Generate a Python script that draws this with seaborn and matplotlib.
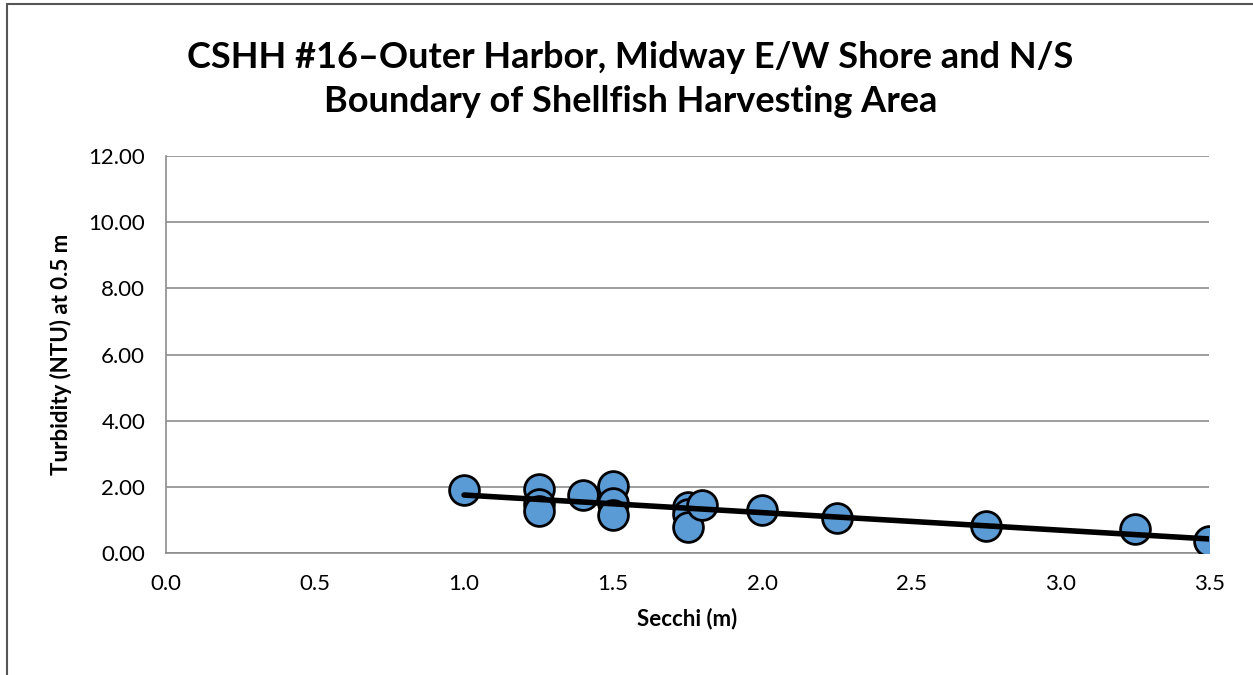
import numpy as np
import pandas as pd
import seaborn as sns
import matplotlib.pyplot as plt
from matplotlib.lines import Line2D

# data
secchi = [1.0, 1.25, 1.25, 1.25, 1.4, 1.5, 1.5, 1.5, 1.75, 1.75, 1.75, 1.8,
          2.0, 2.25, 2.75, 3.25, 3.5]
turbidity = [1.90, 1.94, 1.48, 1.27, 1.75, 2.02, 1.52, 1.15, 1.40, 1.18, 0.80, 1.45,
             1.30, 1.06, 0.82, 0.72, 0.37]

title = "CSHH #16\u2013Outer Harbor, Midway E/W Shore and N/S\nBoundary of Shellfish Harvesting Area"
x_label = "Secchi (m)"
y_label = "Turbidity (NTU) at 0.5 m"
x_ticks = [0.0, 0.5, 1.0, 1.5, 2.0, 2.5, 3.0, 3.5]
y_ticks = [0, 2, 4, 6, 8, 10, 12]

grid_color = "#8c8c8c"
marker_color = "#5b9bd5"

sns.set_style("white")
plt.rcParams['font.family'] = ['Lato', 'DejaVu Sans']
plt.rcParams['text.color'] = 'black'
plt.rcParams['axes.labelcolor'] = 'black'
plt.rcParams['xtick.color'] = 'black'
plt.rcParams['ytick.color'] = 'black'

df = pd.DataFrame({"secchi": secchi, "turbidity": turbidity})

fig = plt.figure(figsize=(12.53, 6.75), dpi=100)
ax = fig.add_axes([0.1325, 0.1807, 0.8325, 0.5882])

sns.regplot(data=df, x="secchi", y="turbidity", ax=ax, ci=None,
            scatter_kws=dict(s=460, color=marker_color, edgecolor="black",
                             linewidths=2, alpha=1, zorder=3),
            line_kws=dict(color="black", lw=4, zorder=4))

ax.set_xlim(0, 3.5)
ax.set_ylim(0, 12)
ax.set_xticks(x_ticks)
ax.set_xticklabels([f"{v:.1f}" for v in x_ticks])
ax.set_yticks(y_ticks)
ax.set_yticklabels([f"{v:.2f}" for v in y_ticks])
ax.tick_params(axis="both", labelsize=16, direction="out", length=8,
               width=1.2, color=grid_color, pad=7)
ax.yaxis.grid(True, color=grid_color, lw=1.2)
ax.set_axisbelow(True)
for side in ["top", "right"]:
    ax.spines[side].set_visible(False)
for side in ["left", "bottom"]:
    ax.spines[side].set_color(grid_color)
    ax.spines[side].set_linewidth(1.2)

ax.set_xlabel(x_label, fontsize=16, fontweight="bold", labelpad=10)
ax.set_ylabel(y_label, fontsize=16, fontweight="bold", labelpad=12)
fig.suptitle(title, x=0.503, y=0.94, fontsize=26, fontweight="bold",
             linespacing=1.42, va="top")

# chart area border (top and left visible)
fig.add_artist(Line2D([7 / 1253, 7 / 1253], [0, 1 - 4 / 675], transform=fig.transFigure,
                      color="#555555", lw=1.5))
fig.add_artist(Line2D([7 / 1253, 1], [1 - 4 / 675, 1 - 4 / 675], transform=fig.transFigure,
                      color="#555555", lw=1.5))

plt.savefig("out.png", dpi=100)
